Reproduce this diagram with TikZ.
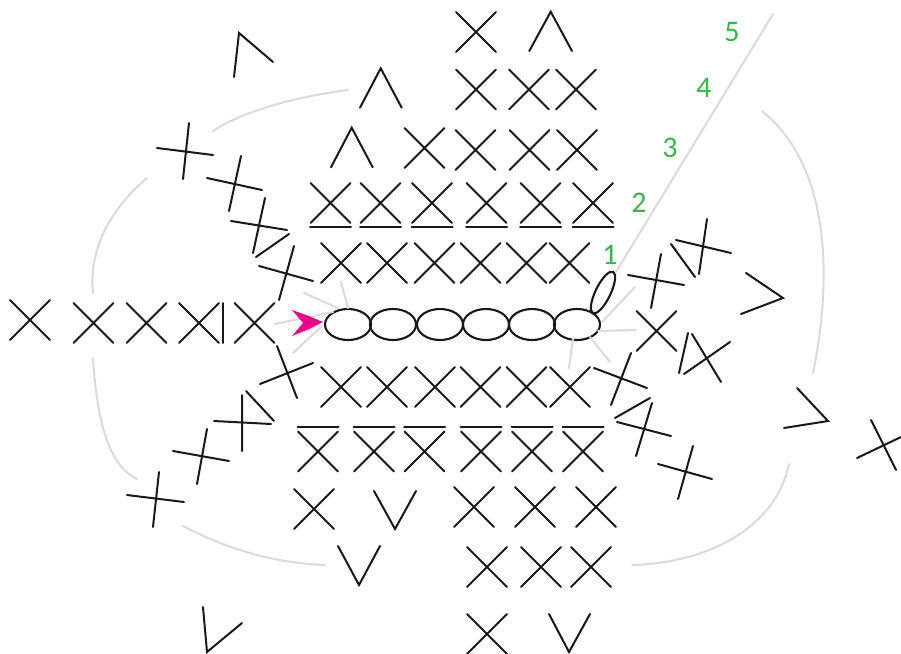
\documentclass[tikz,border=0pt]{standalone}
\usepackage{fontspec}
\setmainfont{Carlito}
\usepackage{xcolor}
\usetikzlibrary{shapes.geometric}
\definecolor{guidegray}{RGB}{218,218,218}
\definecolor{rowgreen}{RGB}{57,181,74}
\definecolor{startpink}{RGB}{236,0,140}
\begin{document}
\begin{tikzpicture}[
    x=1pt, y=-1pt,
    st/.style={line width=2pt, line cap=round, black!90},
    guide/.style={line width=2pt, line cap=round, guidegray},
    chain/.style={draw, ellipse, line width=2.1pt, black!90, inner sep=0pt, minimum width=46pt, minimum height=31pt},
    rownum/.style={text=rowgreen, font=\fontsize{30}{32}\selectfont, inner sep=0pt}
]
\useasboundingbox (0,0) rectangle (901,653);

% foundation chain
\foreach \i/\x in {1/348,2/393,3/440,4/486,5/532,6/577}
    \node[chain] (ch\i) at (\x,324.5) {};
\node[chain, minimum width=46pt, minimum height=15pt, rotate=64] (turn) at (603,292.5) {};

% spokes and round guides
\draw[guide] (304,293) -- (338,308);
\draw[guide] (341,282) -- (348,308);
\draw[guide] (275,324) -- (333,312);
\draw[guide] (293,353) -- (322,326);
\draw[guide] (635,287) -- (602,322);
\draw[guide] (616,272) -- (773,14);
\draw[guide] (598,331) -- (636,330);
\draw[guide] (573,338) -- (569,368);
\draw[guide] (590,337) -- (610,362);
\draw[guide] (348,90) .. controls (300,96) and (245,110) .. (213,131);
\draw[guide] (147,178) .. controls (115,205) and (88,245) .. (93,293);
\draw[guide] (93,358) .. controls (97,420) and (108,465) .. (137,479);
\draw[guide] (183,526) .. controls (235,553) and (280,563) .. (325,565);
\draw[guide] (632,565) .. controls (705,563) and (775,530) .. (789,464);
\draw[guide] (762,111) .. controls (835,170) and (830,290) .. (813,373);

% start marker
\fill[startpink] (292,310) -- (309,316) -- (323,322) -- (309,329) -- (292,336) -- (303,323) -- cycle;

% row numbers
\node[rownum] (n1) at (610,255) {1};
\node[rownum] (n2) at (639,203) {2};
\node[rownum] (n3) at (670,148) {3};
\node[rownum] (n4) at (704,88) {4};
\node[rownum] (n5) at (732,32) {5};

% single crochet crosses
\foreach \x/\y in {30/320,93.5/323,146.5/323,199/323,254.5/323,
    476/32,476/89.5,529/89.5,576/89.5,
    424.5/148,475.5/150,529.5/150,577/150,
    330.5/203,380.5/203,432/203,486.5/203,540.5/203,593/203,
    341/263,387/263,434.5/263,480.5/263,526.5/263,569.5/263,
    341/387,387/387,435/387,480.5/387,526.5/387,570/387,
    318/451.5,374/451.5,424.5/451.5,481/451.5,532/451.5,583/451.5,
    314/509,474/507,535/507,596/507,
    487/567,541/567,591/567,487/634,656.5/331}
    \draw[st] (\x-20,\y-20) -- (\x+20,\y+20) (\x-20,\y+20) -- (\x+20,\y-20);

% bars above and below the crosses
\foreach \x in {330.5,380.5,432,486.5,540.5,593}
    \draw[st] (\x-20.5,227) -- (\x+20.5,227);
\foreach \x in {318,374,424.5,481,532,583}
    \draw[st] (\x-20.5,427) -- (\x+20.5,427);
\draw[st] (222.7,303) -- (222.7,343);

% increases and decreases
\foreach \a/\b/\c/\d/\e/\f in {
    360/107.7/380.7/68.3/401.7/107.7,
    331/167.3/351.7/127.7/372.7/167.3,
    529.3/51/550.7/11.7/572/51,
    234/77/239/33/273/62,
    374/491/395/529/416/491,
    338/546/359/585/380/546,
    549/614/569/652/590/614,
    203/607/207/652/242/623,
    746/273/783/298/741/314,
    797/388/828/421/784/428}
    \draw[st] (\a,\b) -- (\c,\d) -- (\e,\f);

% tilted crosses round the corners
\foreach \a/\b/\c/\d/\e/\f/\g/\h in {
    157/148/213/155/189/123/183/179,
    207/178/262/190/241/156/229/211,
    231/221/287/230/265/198/253/253,
    259/266/313/281/294/246/279/300,
    260/384/313/363/277/346/297/398,
    214/421/271/424/242/395/242/451,
    173/451/229/461/207/429/197/484,
    127/495/184/502/159/472/153/527,
    628/275/684/285/661/254/651/308,
    676/240/731/253/707/219/699/274,
    730/342/684/374/692/334/721/382,
    594/368/647/388/631/353/611/405,
    617/422/671/436/652/403/636/456,
    658/464/712/479/693/446/678/499,
    871/420/896/470/857/458/901/437}
    \draw[st] (\a,\b) -- (\c,\d) (\e,\f) -- (\g,\h);

% extra strokes beside them
\draw[st] (289,234) -- (256,257);
\draw[st] (246,391) -- (274,421);
\draw[st] (671,244) -- (695,277);
\draw[st] (688,333) -- (679,373);
\draw[st] (650,398) -- (615,418);
\end{tikzpicture}
\end{document}
